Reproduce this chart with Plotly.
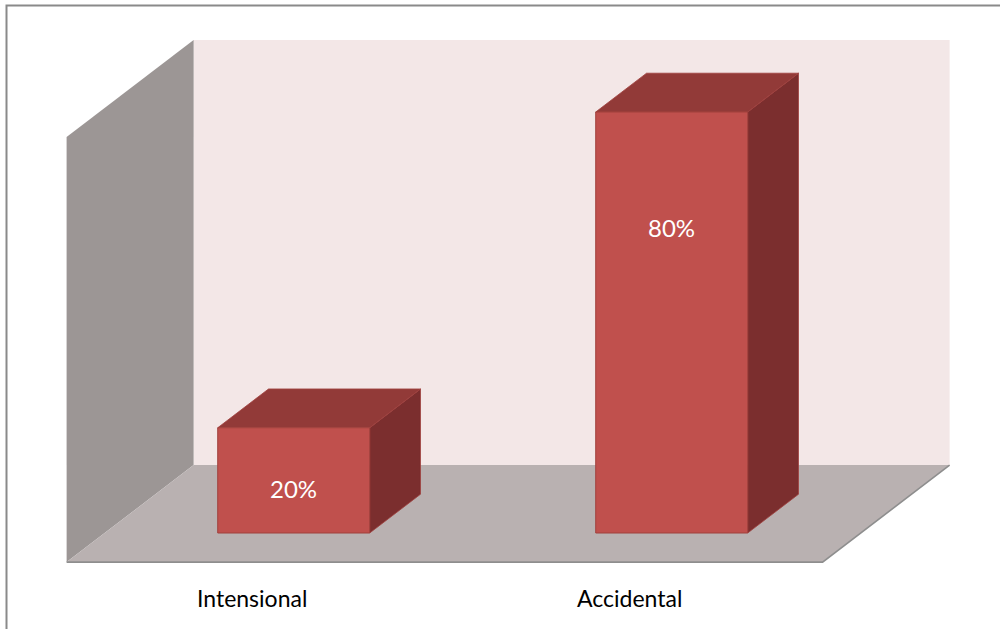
import plotly.graph_objects as go

# Data
categories = ["Intensional", "Accidental"]
values = [20, 80]
value_labels = ["20%", "80%"]

# Oblique 3D projection settings (x in category units, y in value units)
DEPTH_X = 0.336          # horizontal shift of the full floor depth
DEPTH_Y = 18.43          # vertical shift of the full floor depth
BAR_HALF = 0.201         # half width of a column
BAR_D0, BAR_D1 = 0.3, 0.7  # column depth span within the floor
WALL_TOP = 80.8
FLOOR_X = (-0.5, 1.5)
LABEL_DROP = [11.5, 22.0]  # how far below the top each value label sits

C_FRONT = "#C0504D"
C_TOP = "#923A38"
C_SIDE = "#7B2E2E"
C_EDGE = "#A0403D"
C_BACK = "#F3E7E7"
C_LEFT = "#9C9695"
C_FLOOR = "#B9B1B1"
FONT = "Lato, Carlito, sans-serif"


def proj(x, v, d):
    return x + d * DEPTH_X, v + d * DEPTH_Y


def poly(fig, pts, fill, line_color=None, line_width=0):
    xs = [p[0] for p in pts] + [pts[0][0]]
    ys = [p[1] for p in pts] + [pts[0][1]]
    fig.add_trace(go.Scatter(
        x=xs, y=ys, mode="lines", fill="toself", fillcolor=fill,
        line=dict(color=line_color or fill, width=line_width),
        hoverinfo="skip", showlegend=False))


fig = go.Figure()

xa, xb = FLOOR_X
# back wall
poly(fig, [proj(xa, 0, 1), proj(xb, 0, 1), proj(xb, WALL_TOP, 1), proj(xa, WALL_TOP, 1)], C_BACK)
# left side wall
poly(fig, [proj(xa, 0, 0), proj(xa, 0, 1), proj(xa, WALL_TOP, 1), proj(xa, WALL_TOP, 0)], C_LEFT)
# floor
poly(fig, [proj(xa, 0, 0), proj(xb, 0, 0), proj(xb, 0, 1), proj(xa, 0, 1)], C_FLOOR)
# floor front and right edges
edge = [proj(xa, 0, 0), proj(xb, 0, 0), proj(xb, 0, 1)]
fig.add_trace(go.Scatter(x=[p[0] for p in edge], y=[p[1] for p in edge], mode="lines",
                         line=dict(color="#8E8E8E", width=1.6), hoverinfo="skip", showlegend=False))

# columns
for i, v in enumerate(values):
    l, r = i - BAR_HALF, i + BAR_HALF
    poly(fig, [proj(r, 0, BAR_D0), proj(r, v, BAR_D0), proj(r, v, BAR_D1), proj(r, 0, BAR_D1)],
         C_SIDE, C_EDGE, 0.8)
    poly(fig, [proj(l, v, BAR_D0), proj(r, v, BAR_D0), proj(r, v, BAR_D1), proj(l, v, BAR_D1)],
         C_TOP, C_EDGE, 0.8)
    poly(fig, [proj(l, 0, BAR_D0), proj(r, 0, BAR_D0), proj(r, v, BAR_D0), proj(l, v, BAR_D0)],
         C_FRONT, C_EDGE, 1)
    lx, ly = proj(i, v - LABEL_DROP[i], BAR_D0)
    fig.add_annotation(x=lx, y=ly, text=value_labels[i], showarrow=False,
                       font=dict(family=FONT, size=24, color="white"))
    cx, cy = proj(i, 0, 0)
    fig.add_annotation(x=cx, y=cy, xshift=-4, yshift=-36, text=categories[i], showarrow=False,
                       font=dict(family=FONT, size=23, color="black"))

# chart border
fig.add_shape(type="rect", xref="paper", yref="paper", x0=0.0065, x1=1.01, y0=-0.01, y1=1 - 5.5 / 629,
              line=dict(color="#8A8A8A", width=2))

fig.update_layout(
    width=1000, height=629, margin=dict(l=0, r=0, t=0, b=0),
    paper_bgcolor="white", plot_bgcolor="white",
    xaxis=dict(range=[-0.6762, 1.9693], visible=False, fixedrange=True),
    yaxis=dict(range=[-12.71, 106.81], visible=False, fixedrange=True),
    showlegend=False,
)

fig.write_html("out.html")
